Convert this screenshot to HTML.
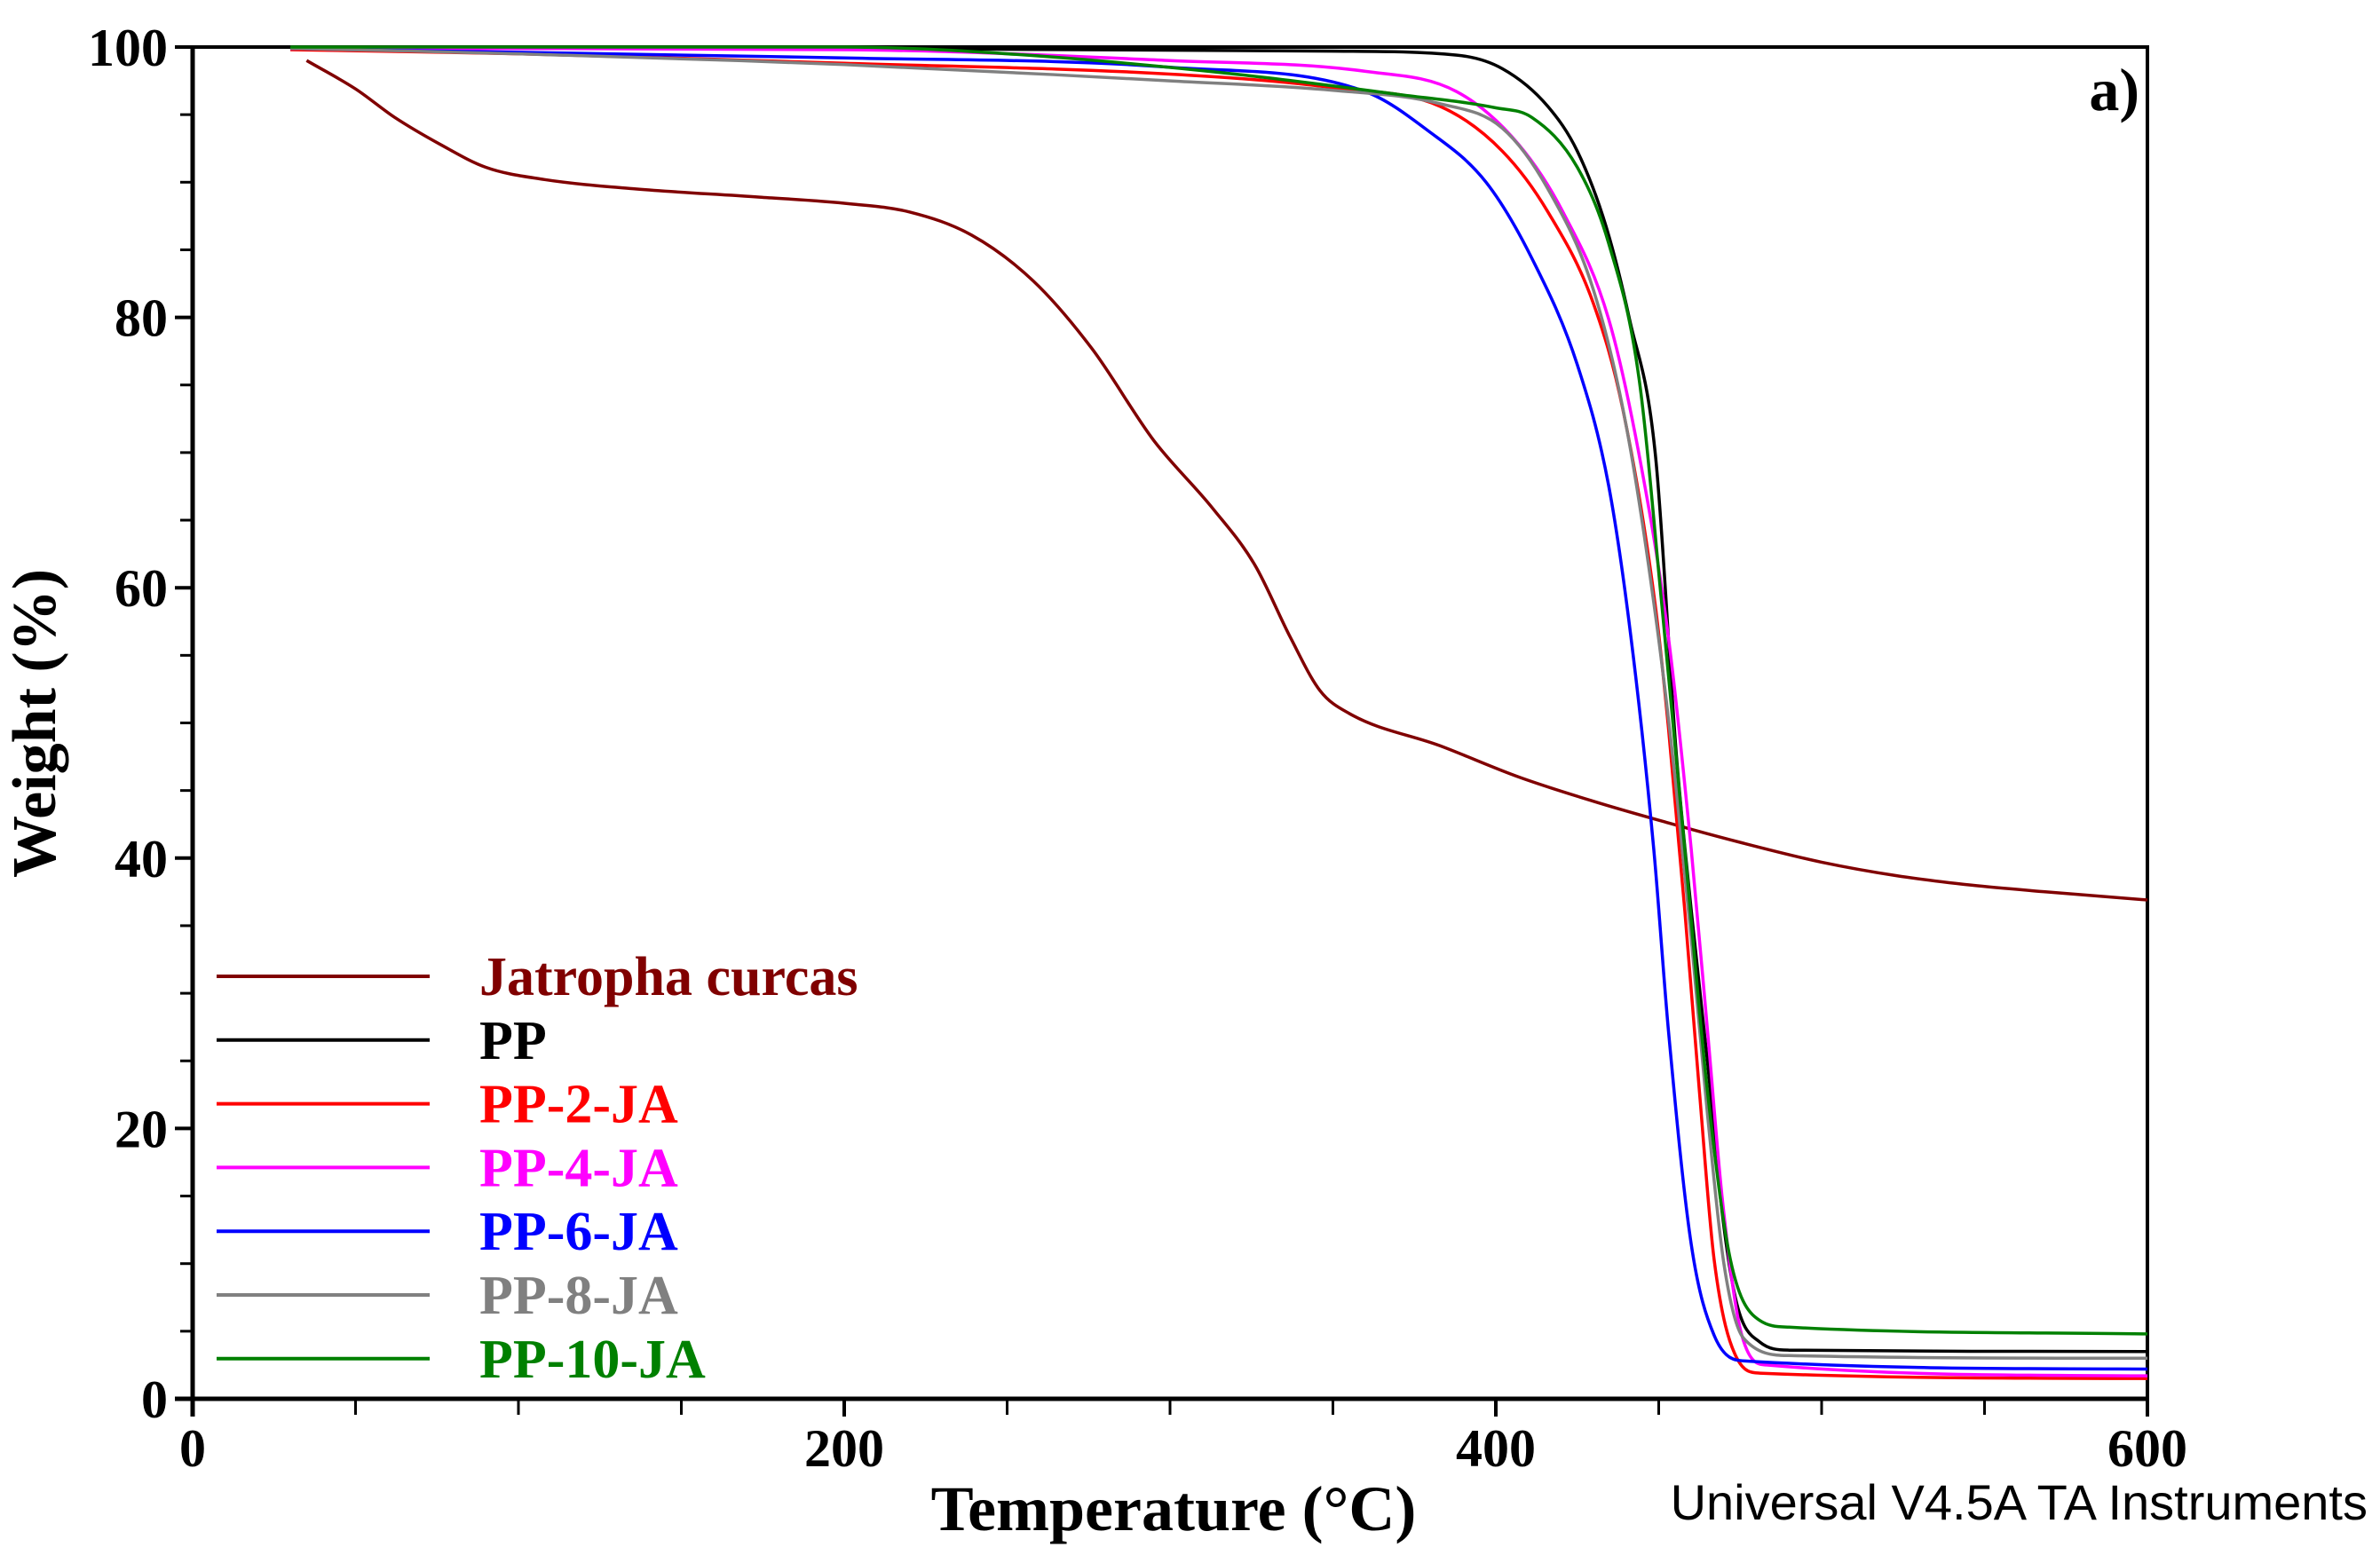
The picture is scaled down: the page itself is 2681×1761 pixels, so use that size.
<!DOCTYPE html>
<html><head><meta charset="utf-8">
<style>
html,body{margin:0;padding:0;background:#fff;}
svg{display:block;}
text{font-family:"Liberation Serif",serif;font-weight:bold;}
</style></head>
<body>
<svg id="chart" width="2681" height="1761" viewBox="0 0 2681 1761" xmlns="http://www.w3.org/2000/svg">
<g id="axes"></g>
<g id="series"></g>
<g id="legend"></g>
<text x="0" y="0" transform="translate(62,815) rotate(-90)" text-anchor="middle" font-size="70">Weight (%)</text>
<text x="1322" y="1724" text-anchor="middle" font-size="72">Temperature (°C)</text>
<text x="2410" y="124" text-anchor="end" font-size="68">a)</text>
<text x="2667" y="1712" text-anchor="end" font-size="56" style="font-family:'Liberation Sans',sans-serif;font-weight:normal">Universal V4.5A TA Instruments</text>
</svg>
<script>
const xTicks=[0,200,400,600];
const yTicks=[0,20,40,60,80,100];
const seriesNames=["Jatropha curcas","PP","PP-2-JA","PP-4-JA","PP-6-JA","PP-8-JA","PP-10-JA"];
const seriesColors=["#800000","#000000","#ff0000","#ff00ff","#0000ff","#808080","#008000"];
const jatT=[35,50,62,76,90,108,136,174,202,220,239,258,276,295,313,326,337,346,355,383,407,430,453,476,500,523,546,569,600];
const jatW=[99,96.9,94.8,92.8,91.1,90.2,89.5,88.9,88.4,87.8,86.1,82.7,77.7,70.9,65.9,61.7,56.3,52.4,50.7,48.3,46,44.2,42.6,41.1,39.7,38.7,38,37.5,36.9];
const ppT=[30,200,350,388,402,416,425,434,441,449,455.5,460,465,469.5,474,481,490,600];
const ppW=[99.9,99.9,99.7,99.4,98.4,95.6,92.3,86.6,79.9,69.8,47.4,36.1,24.9,13.7,7,4.2,3.6,3.5];
const pp2T=[30,100,200,300,350,383,402,416,430,439,449,453,458,462.5,467,474,481,600];
const pp2W=[99.8,99.5,98.8,98,97,95.6,92.3,87.8,81,73.2,58.6,49.6,36.1,22.7,10.3,3,1.9,1.5];
const pp4T=[30,200,300,360,388,407,420.6,434.6,444,453,460,465,469.5,475.5,483,600];
const pp4W=[99.9,99.8,99,98.2,96.7,92.8,87.8,79.9,69.8,56.3,40.6,27.2,14.8,4.7,2.5,1.7];
const pp6T=[30,50,200,300,360,378.7,397,411,425,434.6,441.5,448.5,453,460,467,476.5,600];
const pp6W=[99.9,99.8,99.2,98.5,96.7,93.9,90,84.4,76.5,67.6,56.3,40.6,27.2,11.4,4.7,2.8,2.2];
const pp8T=[30,100,200,300,350,383,402,416,430,440,449,455,460,465,470,476,490,600];
const pp8W=[99.9,99.5,98.7,97.5,96.8,95.8,94,89.5,82,72,58,46,34,21,10,4.5,3.2,3];
const pp10T=[30,200,250,320,370,400,411,425,434.6,444,451,458,465,472,481,490,600];
const pp10W=[100,100,99.5,98,96.5,95.5,94.8,91.1,85.5,75.4,58.6,40.6,22.7,10.3,5.8,5.3,4.8];
const allT=[jatT,ppT,pp2T,pp4T,pp6T,pp8T,pp10T];
const allW=[jatW,ppW,pp2W,pp4W,pp6W,pp8W,pp10W];

const X0=217,X1=2419,Y0=1576,Y1=53;
function xs(t){return X0+(t-0)/(600-0)*(X1-X0);}
function ys(w){return Y0-(w-0)/(100-0)*(Y0-Y1);}
const NS="http://www.w3.org/2000/svg";
function mk(tag,attrs,parent){const e=document.createElementNS(NS,tag);for(const k in attrs)e.setAttribute(k,attrs[k]);parent.appendChild(e);return e;}

const axes=document.getElementById('axes');
let e;
e=mk('line',{x1:X0,y1:Y1,x2:X0,y2:Y0+20,stroke:'#000','stroke-width':5},axes);


e=mk('line',{x1:X0-20,y1:Y0,x2:X1+2,y2:Y0,stroke:'#000','stroke-width':5},axes);


e=mk('line',{x1:X0-20,y1:Y1,x2:X1+2,y2:Y1,stroke:'#000','stroke-width':4},axes);


e=mk('line',{x1:X1,y1:Y1,x2:X1,y2:Y0+20,stroke:'#000','stroke-width':4},axes);


for(let t=50;t<600;t+=50){
  if(t%200===0)continue;
  e=mk('line',{x1:xs(t),y1:Y0,x2:xs(t),y2:Y0+18,stroke:'#000','stroke-width':3},axes);
  
  
}
xTicks.forEach(t=>{
  e=mk('line',{x1:xs(t),y1:Y0,x2:xs(t),y2:Y0+20,stroke:'#000','stroke-width':4},axes);
  
  
  e=mk('text',{x:xs(t),y:Y0+76,'text-anchor':'middle','font-size':60},axes);
  e.textContent=t;
  
  
});
for(let w=5;w<100;w+=5){
  if(w%20===0)continue;
  e=mk('line',{x1:X0-14,y1:ys(w),x2:X0,y2:ys(w),stroke:'#000','stroke-width':3},axes);
  
  
}
yTicks.forEach(w=>{
  e=mk('line',{x1:X0-20,y1:ys(w),x2:X0,y2:ys(w),stroke:'#000','stroke-width':4},axes);
  
  
  e=mk('text',{x:X0-28,y:ys(w)+21,'text-anchor':'end','font-size':60},axes);
  e.textContent=w;
  
  
});

// monotone cubic (Fritsch-Carlson) interpolation in data space
function monotonePath(T,W){
  const n=T.length,d=[],m=[];
  for(let i=0;i<n-1;i++)d.push((W[i+1]-W[i])/(T[i+1]-T[i]));
  m[0]=d[0];m[n-1]=d[n-2];
  for(let i=1;i<n-1;i++){m[i]=(d[i-1]*d[i]<=0)?0:(d[i-1]+d[i])/2;}
  for(let i=0;i<n-1;i++){
    if(d[i]===0){m[i]=0;m[i+1]=0;continue;}
    const a=m[i]/d[i],b=m[i+1]/d[i],s=a*a+b*b;
    if(s>9){const t=3/Math.sqrt(s);m[i]=t*a*d[i];m[i+1]=t*b*d[i];}
  }
  let p='M'+xs(T[0]).toFixed(1)+','+ys(W[0]).toFixed(1);
  for(let i=0;i<n-1;i++){
    const h=T[i+1]-T[i];
    const c1t=T[i]+h/3,c1w=W[i]+m[i]*h/3;
    const c2t=T[i+1]-h/3,c2w=W[i+1]-m[i+1]*h/3;
    p+='C'+xs(c1t).toFixed(1)+','+ys(c1w).toFixed(1)+' '+xs(c2t).toFixed(1)+','+ys(c2w).toFixed(1)+' '+xs(T[i+1]).toFixed(1)+','+ys(W[i+1]).toFixed(1);
  }
  return p;
}
const sg=document.getElementById('series');
allT.forEach((T,i)=>{
  e=mk('path',{d:monotonePath(T,allW[i]),fill:'none',stroke:seriesColors[i],'stroke-width':3.5,'stroke-linejoin':'round'},sg);
  
  
});

const lg=document.getElementById('legend');
seriesNames.forEach((n,i)=>{
  const y=1100+i*71.8;
  e=mk('line',{x1:244,y1:y,x2:484,y2:y,stroke:seriesColors[i],'stroke-width':4},lg);
  
  
  e=mk('text',{x:540,y:y+21,'font-size':62,fill:seriesColors[i]},lg);
  e.textContent=n;
  
  
});
</script>
</body></html>
